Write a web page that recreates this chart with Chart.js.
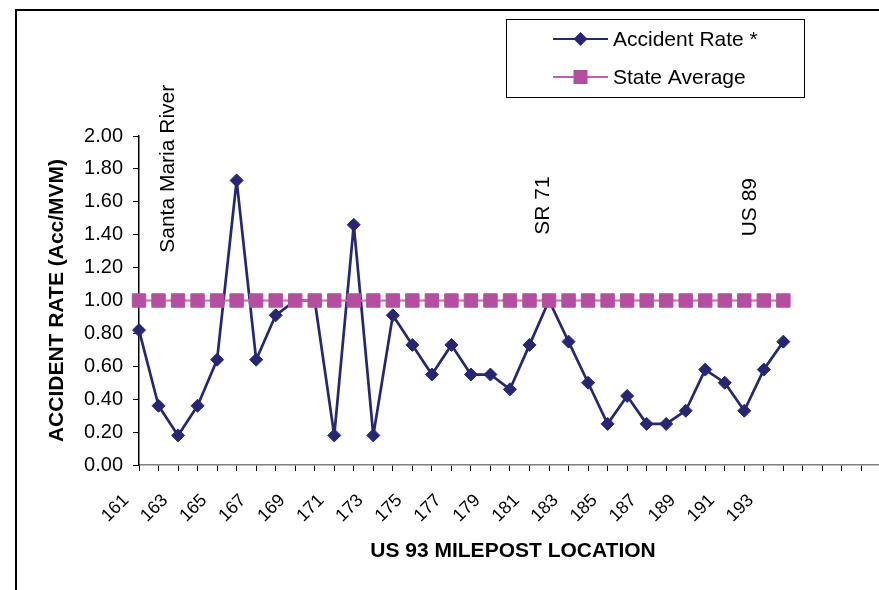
<!DOCTYPE html>
<html lang="en">
<head>
    <meta charset="UTF-8">
    <title>US 93 Accident Rate</title>
    <script src="https://cdn.jsdelivr.net/npm/chart.js"></script>
    <style>
        html, body { margin: 0; padding: 0; background: #fff; overflow: hidden; }
        .wrap { position: relative; width: 879px; height: 590px; overflow: hidden; }
        .frame {
            position: absolute; left: 15px; top: 9px; width: 1000px; height: 700px;
            border-left: 2px solid #000; border-top: 2px solid #000;
        }
        canvas { position: absolute; left: 0; top: 0; }
    </style>
</head>
<body>
<div class="wrap">
    <div class="frame"></div>
    <canvas id="rateChart" width="911" height="590"></canvas>
</div>
<script>
    // milepost categories (blank ones at the end are empty axis slots)
    const mileposts = ['161','162','163','164','165','166','167','168','169','170',
                       '171','172','173','174','175','176','177','178','179','180',
                       '181','182','183','184','185','186','187','188','189','190',
                       '191','192','193','194','','','','','',''];
    const accidentRate = [0.82, 0.36, 0.18, 0.36, 0.64, 1.73, 0.64, 0.91, 1.00, 1.00,
                          0.18, 1.46, 0.18, 0.91, 0.73, 0.55, 0.73, 0.55, 0.55, 0.46,
                          0.73, 1.00, 0.75, 0.50, 0.25, 0.42, 0.25, 0.25, 0.33, 0.58,
                          0.50, 0.33, 0.58, 0.75];
    const stateAverage = [1.00, 1.00, 1.00, 1.00, 1.00, 1.00, 1.00, 1.00, 1.00, 1.00,
                          1.00, 1.00, 1.00, 1.00, 1.00, 1.00, 1.00, 1.00, 1.00, 1.00,
                          1.00, 1.00, 1.00, 1.00, 1.00, 1.00, 1.00, 1.00, 1.00, 1.00,
                          1.00, 1.00, 1.00, 1.00];
    const yTicks = [0, 0.2, 0.4, 0.6, 0.8, 1.0, 1.2, 1.4, 1.6, 1.8, 2.0];
    const noteText = ['Santa Maria River', 'SR 71', 'US 89'];
    const noteMile = [162.5, 181.7, 192.3];

    const FONT = '"Liberation Sans", Arial, sans-serif';
    const NAVY = '#262673';
    const PINK = '#b44fa0';

    // landmark labels, x-axis title and legend box
    const extras = {
        id: 'extras',
        afterDraw(chart) {
            const ctx = chart.ctx;
            const x = chart.scales.x, y = chart.scales.y;
            ctx.save();
            ctx.fillStyle = '#000';
            ctx.font = '21px ' + FONT;
            ctx.textAlign = 'left';
            ctx.textBaseline = 'middle';
            const bottoms = [1.29, 1.40, 1.39];
            noteText.forEach((t, i) => {
                const px = x.getPixelForValue(noteMile[i] - 161);
                const py = y.getPixelForValue(bottoms[i]);
                ctx.save();
                ctx.translate(px, py);
                ctx.rotate(-Math.PI / 2);
                ctx.fillText(t, 0, 0);
                ctx.restore();
            });

            ctx.font = 'bold 21px ' + FONT;
            ctx.textAlign = 'center';
            ctx.fillText('US 93 MILEPOST LOCATION', 513, 551);
            ctx.textAlign = 'left';

            // legend
            ctx.fillStyle = '#fff';
            ctx.fillRect(506, 19, 298, 78);
            ctx.strokeStyle = '#000';
            ctx.lineWidth = 1;
            ctx.strokeRect(506.5, 19.5, 298, 78);
            const rows = [
                { label: 'Accident Rate *', color: NAVY, line: NAVY, style: 'diamond', y: 39 },
                { label: 'State Average', color: PINK, line: '#c060b0', style: 'square', y: 77 }
            ];
            rows.forEach(r => {
                ctx.strokeStyle = r.line;
                ctx.lineWidth = 2;
                ctx.beginPath();
                ctx.moveTo(553, r.y);
                ctx.lineTo(608, r.y);
                ctx.stroke();
                ctx.fillStyle = r.color;
                ctx.beginPath();
                if (r.style === 'diamond') {
                    ctx.moveTo(580.5 - 7, r.y);
                    ctx.lineTo(580.5, r.y - 7);
                    ctx.lineTo(580.5 + 7, r.y);
                    ctx.lineTo(580.5, r.y + 7);
                    ctx.closePath();
                } else {
                    ctx.rect(580.5 - 7, r.y - 7, 14, 14);
                }
                ctx.fill();
                ctx.fillStyle = '#000';
                ctx.font = '21px ' + FONT;
                ctx.fillText(r.label, 613, r.y + 1);
            });
            ctx.restore();
        }
    };

    new Chart(document.getElementById('rateChart'), {
        type: 'line',
        data: {
            labels: mileposts,
            datasets: [{
                label: 'Accident Rate *',
                data: accidentRate,
                borderColor: NAVY,
                backgroundColor: NAVY,
                borderWidth: 2.7,
                borderJoinStyle: 'round',
                pointStyle: 'rectRot',
                pointRadius: 6.5,
                pointBorderWidth: 1,
                tension: 0,
                clip: false,
                order: 2
            }, {
                label: 'State Average',
                data: stateAverage,
                borderColor: '#c46ab6',
                backgroundColor: PINK,
                pointBorderColor: PINK,
                borderWidth: 2,
                pointStyle: 'rect',
                pointRadius: 9.5,
                pointBorderWidth: 1,
                tension: 0,
                clip: false,
                order: 1
            }]
        },
        options: {
            responsive: false,
            animation: false,
            layout: { padding: { top: 136, left: 0, right: 0, bottom: 0 } },
            plugins: { legend: { display: false }, tooltip: { enabled: false } },
            scales: {
                x: {
                    type: 'category',
                    offset: false,
                    border: { color: '#808080', width: 1.5 },
                    grid: { drawOnChartArea: false, tickLength: 6, tickColor: '#000', tickWidth: 1 },
                    ticks: {
                        autoSkip: false,
                        maxRotation: 45,
                        minRotation: 45,
                        padding: 19,
                        labelOffset: -13,
                        color: '#000',
                        font: { family: FONT, size: 18 },
                        callback: (v, i) => (i % 2 === 0 ? mileposts[i] : '')
                    },
                    afterFit: s => { s.height = 125; s.paddingRight = 0; }
                },
                y: {
                    min: 0,
                    max: 2,
                    border: { color: '#000', width: 1.5 },
                    grid: { drawOnChartArea: false, tickLength: 6, tickColor: '#000' },
                    afterBuildTicks: s => { s.ticks = yTicks.map(v => ({ value: v })); },
                    ticks: {
                        padding: 10,
                        color: '#000',
                        font: { family: FONT, size: 20 },
                        callback: v => Number(v).toFixed(2)
                    },
                    title: {
                        display: true,
                        text: 'ACCIDENT RATE (Acc/MVM)',
                        color: '#000',
                        font: { family: FONT, size: 21, weight: 'bold' },
                        padding: { top: 45, bottom: 0 }
                    },
                    afterFit: s => { s.width = 139; }
                }
            }
        },
        plugins: [extras]
    });
</script>
</body>
</html>
